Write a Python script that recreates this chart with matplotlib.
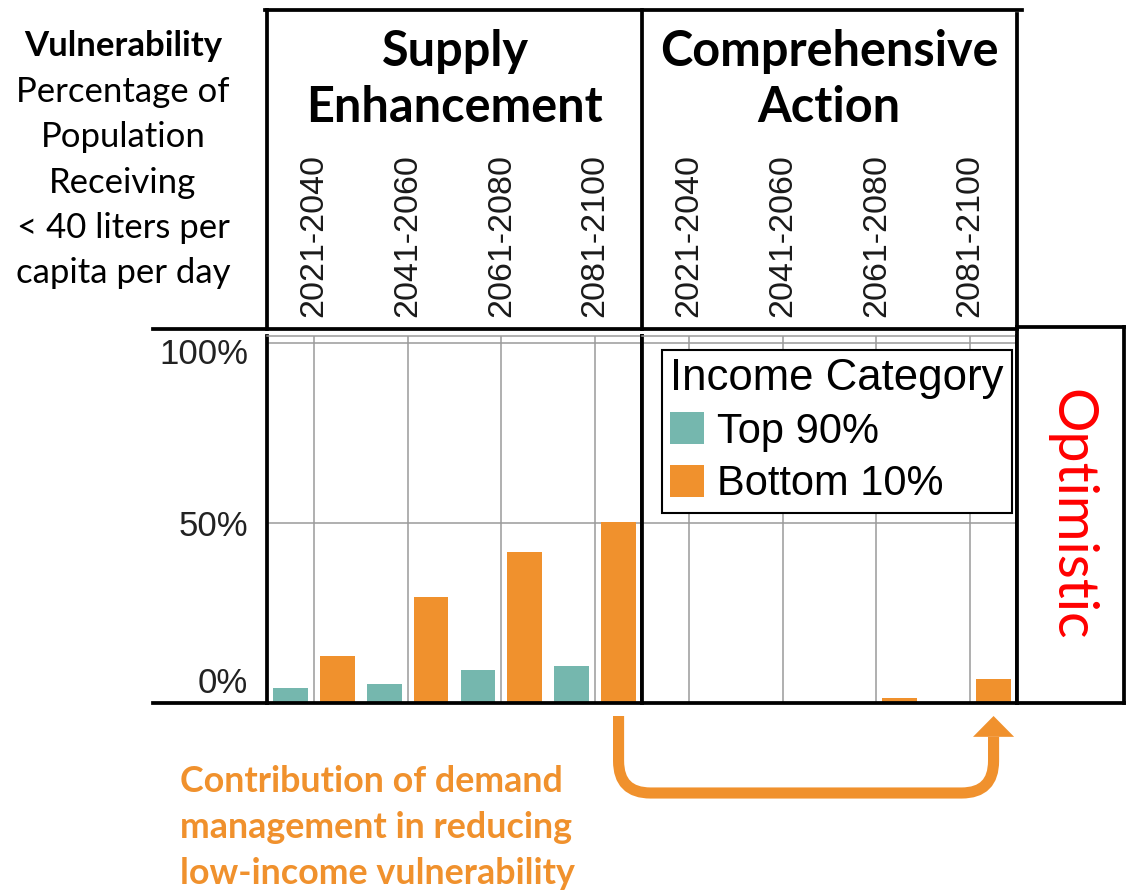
import numpy as np
import matplotlib.pyplot as plt
from matplotlib.lines import Line2D
from matplotlib.patches import ConnectionPatch
from matplotlib.transforms import ScaledTranslation

# Datos (porcentaje de población con < 40 l/cap/día)
periods = ["2021-2040", "2041-2060", "2061-2080", "2081-2100"]
supply_top90 = [4.2, 5.3, 9.2, 10.3]
supply_bottom10 = [13.1, 29.3, 41.9, 50.3]
comp_top90 = [0.0, 0.0, 0.0, 0.0]
comp_bottom10 = [0.0, 0.0, 1.4, 6.7]
series_labels = ["Top 90%", "Bottom 10%"]
panel_titles = ["Supply\nEnhancement", "Comprehensive\nAction"]

TEAL = "#75b7ae"
ORANGE = "#f0912d"
GRID = "#9a9a9a"
ARIAL = "Liberation Sans"
CALIBRI = "Lato"
THICK = 2.7

W, H = 1130, 891
fig = plt.figure(figsize=(W / 100, H / 100), dpi=100)


def fx(x):
    return x / W


def fy(y):
    return 1 - y / H


def hline(x0, x1, y, lw=THICK):
    fig.add_artist(Line2D([fx(x0), fx(x1)], [fy(y), fy(y)], lw=lw, color="black",
                          transform=fig.transFigure, solid_capstyle="projecting"))


def vline(x, y0, y1, lw=THICK):
    fig.add_artist(Line2D([fx(x), fx(x)], [fy(y0), fy(y1)], lw=lw, color="black",
                          transform=fig.transFigure, solid_capstyle="projecting"))


ax1 = fig.add_axes([fx(267), fy(703), 375 / W, (703 - 336) / H])
ax2 = fig.add_axes([fx(642), fy(703), 375 / W, (703 - 336) / H], sharey=ax1)

x = np.arange(len(periods))
bars = []
for ax, t90, b10 in [(ax1, supply_top90, supply_bottom10), (ax2, comp_top90, comp_bottom10)]:
    b1 = ax.bar(x - 0.25, t90, 0.37, color=TEAL, label=series_labels[0], zorder=2)
    b2 = ax.bar(x + 0.25, b10, 0.37, color=ORANGE, label=series_labels[1], zorder=2)
    bars = [b1, b2]
    ax.set_xlim(-0.5, 3.5)
    ax.set_ylim(0, 101.9)
    ax.set_xticks(x)
    ax.set_xticklabels(periods, rotation=90, fontsize=24.5, family=ARIAL, color="#1a1a1a")
    ax.xaxis.tick_top()
    ax.tick_params(axis="x", length=0, pad=13.7)
    ax.set_yticks([0, 50, 100])
    ax.grid(True, color=GRID, lw=1.1)
    ax.set_axisbelow(True)
    for s in ["left", "right", "bottom"]:
        ax.spines[s].set_linewidth(THICK)
        ax.spines[s].set_color("black")
    ax.spines["top"].set_linewidth(1.1)
    ax.spines["top"].set_color(GRID)

ax1.set_yticklabels(["0%", "50%", "100%"], fontsize=25, family=ARIAL, color="#222222")
ax1.tick_params(axis="y", length=0, pad=13.7)
for lab, dy in zip(ax1.get_yticklabels(), [23, 0, -8]):
    lab.set_transform(lab.get_transform() + ScaledTranslation(0, dy / 100, fig.dpi_scale_trans))
ax2.tick_params(axis="y", length=0, labelleft=False)

leg = ax2.legend(bars, series_labels, title="Income Category", loc="upper left",
                 bbox_to_anchor=(0.053, 0.962), borderaxespad=0, alignment="left",
                 prop={"family": ARIAL, "size": 30},
                 title_fontproperties={"family": ARIAL, "size": 31.5},
                 fancybox=False, framealpha=1, edgecolor="black",
                 handlelength=0.8, handleheight=0.8, handletextpad=0.32,
                 borderpad=0.2, labelspacing=0.3)
leg.get_frame().set_linewidth(1.5)

# Cabecera
hline(265, 1022, 10)
vline(267, 10, 329)
vline(642, 10, 329)
vline(1017, 14, 325)
hline(153, 1017, 329)
hline(153, 267, 703)

for cx, title in zip([455, 829], panel_titles):
    top, bottom = title.split("\n")
    fig.text(fx(cx), fy(52), top, ha="center", va="center", fontsize=35,
             fontweight="bold", family=CALIBRI)
    fig.text(fx(cx), fy(108), bottom, ha="center", va="center", fontsize=35,
             fontweight="bold", family=CALIBRI)

# Texto del eje y
fig.text(fx(123), fy(46), "Vulnerability", ha="center", va="center", fontsize=25,
         fontweight="bold", family=CALIBRI)
ylines = ["Percentage of", "Population", "Receiving", "< 40 liters per", "capita per day"]
for i, t in enumerate(ylines):
    fig.text(fx(123), fy(92 + 45.3 * i), t, ha="center", va="center", fontsize=25,
             family=CALIBRI)

# Caja "Optimistic"
ax3 = fig.add_axes([fx(1017), fy(703), 107 / W, 376 / H])
ax3.set_xticks([])
ax3.set_yticks([])
for s in ax3.spines.values():
    s.set_linewidth(THICK)
ax3.text(0.5, 0.5, "Optimistic", rotation=-90, color="red", fontsize=40,
         ha="center", va="center", family=CALIBRI, transform=ax3.transAxes)

# Flecha (brazos y radio en píxeles)
y_arrow = -13 / 367
con = ConnectionPatch(xyA=(3.25, y_arrow), coordsA=ax1.get_xaxis_transform(),
                      xyB=(3.25, y_arrow), coordsB=ax2.get_xaxis_transform(),
                      connectionstyle="arc,angleA=-90,angleB=-90,armA=77,armB=77,rad=32",
                      arrowstyle="-", lw=8, color=ORANGE, shrinkA=0, shrinkB=15,
                      capstyle="butt")
fig.add_artist(con)
ax2.annotate("", xy=(3.25, y_arrow), xycoords=ax2.get_xaxis_transform(),
             xytext=(0, -15), textcoords="offset points", annotation_clip=False,
             arrowprops=dict(arrowstyle="-|>,head_length=15,head_width=14.8",
                             mutation_scale=1, lw=0, fc=ORANGE, ec="none",
                             shrinkA=0, shrinkB=0))

notes = ["Contribution of demand", "management in reducing", "low-income vulnerability"]
for i, t in enumerate(notes):
    fig.text(fx(180), fy(782 + 45.5 * i), t, ha="left", va="center", fontsize=25.8,
             fontweight="bold", color=ORANGE, family=CALIBRI)

fig.savefig("out.png", dpi=100)
